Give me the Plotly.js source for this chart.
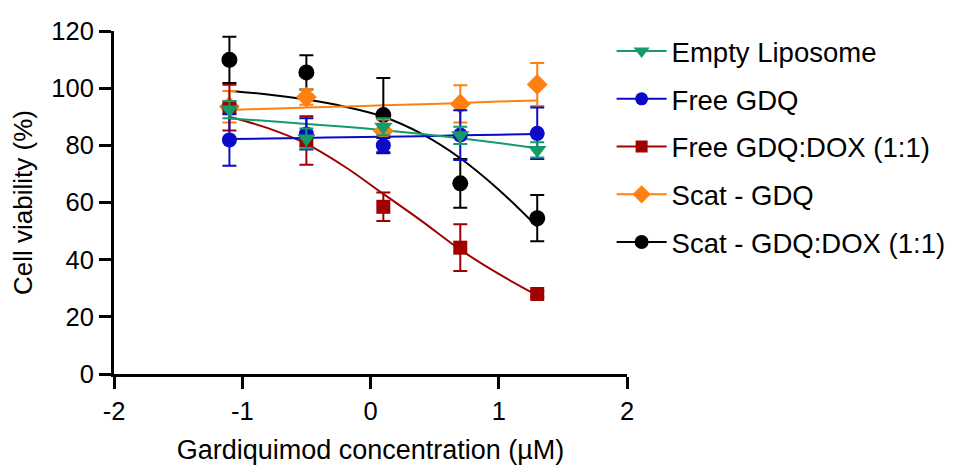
<!DOCTYPE html>
<html>
<head>
<meta charset="utf-8">
<script src="https://cdn.plot.ly/plotly-3.0.1.min.js"></script>
<style>
  html, body { margin: 0; padding: 0; background: #ffffff; }
  #chart { width: 959px; height: 465px; }
</style>
</head>
<body>
<div id="chart"></div>
<script>
// log10 of Gardiquimod concentration (µM) at which viability was measured
const doseLog = [-1.1, -0.5, 0.1, 0.7, 1.3];

// mean cell viability (%) and standard deviation per formulation
const emptyLiposome = [92.5, 82.4, 86.5, 83.5, 78.4];
const emptyLiposomeSd = [3.0, 3.5, 3.0, 3.0, 2.7];
const freeGdq = [81.9, 84.0, 79.9, 83.6, 84.2];
const freeGdqSd = [9.0, 5.5, 2.7, 8.7, 9.0];
const freeGdqDox = [93.2, 81.7, 58.5, 44.2, 28.0];
const freeGdqDoxSd = [8.0, 8.5, 5.0, 8.2, 1.0];
const scatGdq = [93.5, 96.9, 85.0, 94.5, 101.3];
const scatGdqSd = [5.5, 2.7, 4.0, 6.5, 7.5];
const scatGdqDox = [109.9, 105.5, 90.6, 66.7, 54.5];
const scatGdqDoxSd = [8.1, 6.0, 13.0, 8.5, 8.1];

// dose-response fit curves, sampled along the dose range
const fitDose = [-1.1, -0.8, -0.5, -0.2, 0.1, 0.4, 0.7, 1.0, 1.3];
const emptyLiposomeFit = [89.4, 88.5, 87.5, 86.5, 85.3, 84.0, 82.5, 80.8, 79.0];
const freeGdqFit = [82.2, 82.4, 82.6, 82.8, 83.0, 83.2, 83.5, 83.7, 84.0];
const freeGdqDoxFit = [90.0, 86.0, 80.5, 72.5, 63.0, 53.5, 43.5, 35.0, 27.5];
const scatGdqFit = [92.4, 92.8, 93.2, 93.6, 94.0, 94.4, 94.8, 95.3, 95.7];
const scatGdqDoxFit = [99.0, 97.8, 96.0, 93.5, 90.0, 84.0, 75.5, 64.5, 51.5];

const seriesNames = ['Empty Liposome', 'Free GDQ', 'Free GDQ:DOX (1:1)', 'Scat - GDQ', 'Scat - GDQ:DOX (1:1)'];

const series = [
  { name: seriesNames[0], y: emptyLiposome, sd: emptyLiposomeSd, fit: emptyLiposomeFit,
    color: '#159a6a', symbol: 'triangle-down', size: 16 },
  { name: seriesNames[1], y: freeGdq, sd: freeGdqSd, fit: freeGdqFit,
    color: '#0a0ac8', symbol: 'circle', size: 15 },
  { name: seriesNames[2], y: freeGdqDox, sd: freeGdqDoxSd, fit: freeGdqDoxFit,
    color: '#a00000', symbol: 'square', size: 14 },
  { name: seriesNames[3], y: scatGdq, sd: scatGdqSd, fit: scatGdqFit,
    color: '#ff8010', symbol: 'diamond', size: 16 },
  { name: seriesNames[4], y: scatGdqDox, sd: scatGdqDoxSd, fit: scatGdqDoxFit,
    color: '#000000', symbol: 'circle', size: 16 }
];

const traces = [];
// the first data set sits on top, so draw from the last one backwards
for (let i = series.length - 1; i >= 0; i--) {
  const s = series[i];
  traces.push({
    x: fitDose, y: s.fit, type: 'scatter', mode: 'lines',
    line: { color: s.color, width: 2, shape: 'spline' },
    showlegend: false, hoverinfo: 'skip'
  });
}
for (let i = series.length - 1; i >= 0; i--) {
  const s = series[i];
  traces.push({
    x: doseLog, y: s.y, type: 'scatter', mode: 'markers',
    marker: { color: s.color, symbol: s.symbol, size: s.size },
    error_y: { type: 'data', array: s.sd, visible: true, color: s.color, thickness: 2, width: 7 },
    showlegend: false, cliponaxis: false
  });
}
// legend entries: line with marker, listed in the original order
series.forEach((s, i) => {
  traces.push({
    x: [null], y: [null], type: 'scatter', mode: 'lines+markers', name: s.name,
    legendgroup: 'g' + i, legendrank: i + 1,
    line: { color: s.color, width: 2 },
    marker: { color: s.color, symbol: s.symbol, size: s.size - 2 }
  });
});

const family = 'Liberation Sans, Arial, sans-serif';
const tickFont = { family: family, size: 25.5, color: '#000' };

const layout = {
  width: 959, height: 465,
  margin: { l: 114, r: 332, t: 31, b: 91, autoexpand: false },
  paper_bgcolor: '#fff', plot_bgcolor: '#fff',
  font: { family: family, color: '#000' },
  xaxis: {
    range: [-2, 2], tickvals: [-2, -1, 0, 1, 2], ticktext: ['-2', '-1', '0', '1', '2'],
    showgrid: false, zeroline: false, showline: true, linecolor: '#000', linewidth: 3,
    ticks: 'outside', ticklen: 12, tickwidth: 3, tickcolor: '#000',
    tickfont: tickFont,
    title: { text: 'Gardiquimod concentration (µM)', font: { size: 27, family: family, color: '#000' }, standoff: 18 }
  },
  yaxis: {
    range: [0, 120], tickvals: [0, 20, 40, 60, 80, 100, 120],
    showgrid: false, zeroline: false, showline: true, linecolor: '#000', linewidth: 3,
    ticks: 'outside', ticklen: 12, tickwidth: 3, tickcolor: '#000',
    tickfont: tickFont,
    title: { text: 'Cell viability (%)', font: { size: 26, family: family, color: '#000' }, standoff: 12 }
  },
  legend: {
    x: 0.970, xanchor: 'left', y: 1.0126, yanchor: 'top',
    font: { size: 27.5, family: family, color: '#000' },
    traceorder: 'grouped', tracegroupgap: 9, itemwidth: 50,
    bgcolor: 'rgba(0,0,0,0)'
  },
  showlegend: true
};

Plotly.newPlot('chart', traces, layout, { displayModeBar: false, staticPlot: true });
</script>
</body>
</html>
